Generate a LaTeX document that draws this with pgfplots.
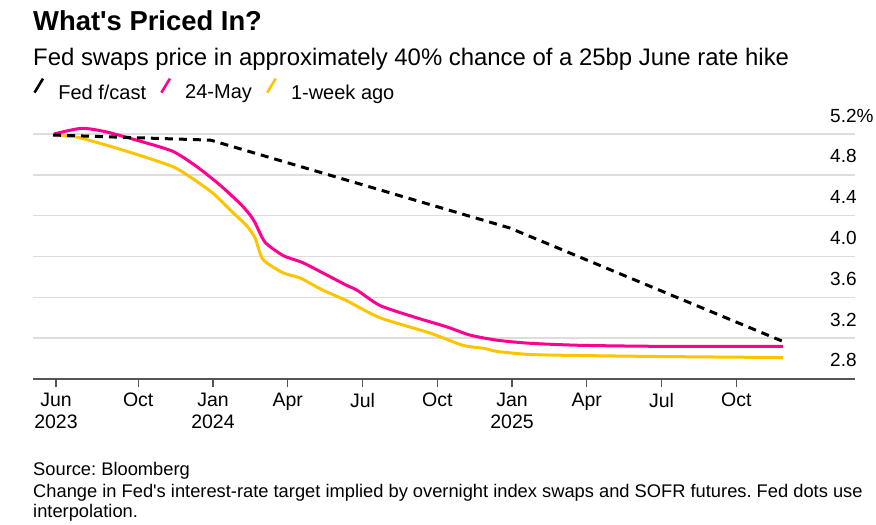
\documentclass[border=0pt]{standalone}
\usepackage{pgfplots}
\pgfplotsset{compat=1.18}
\usepackage{fontspec}
\setmainfont{Liberation Sans}
\definecolor{pinkline}{HTML}{FF0090}
\definecolor{yellowline}{HTML}{FFC400}
\definecolor{gridgray}{HTML}{DDDDDD}
\definecolor{axisgray}{HTML}{555555}
\begin{document}
\frenchspacing
\begin{tikzpicture}
\path[use as bounding box] (0bp,0bp) rectangle (876bp,525bp);
\node[anchor=base west, inner sep=0pt, font=\bfseries\fontsize{27.4bp}{30bp}\selectfont] at (33bp,494bp) {What\textquotesingle s Priced In?};
\node[anchor=base west, inner sep=0pt, font=\fontsize{23.9bp}{28bp}\selectfont] at (33bp,459bp) {Fed swaps price in approximately 40\% chance of a 25bp June rate hike};
\node[anchor=base west, inner sep=0pt, font=\fontsize{18.3bp}{20.5bp}\selectfont, align=left] at (33bp,49bp) {Source: Bloomberg};
\node[anchor=base west, inner sep=0pt, font=\fontsize{18.3bp}{20.5bp}\selectfont, align=left] at (33bp,28bp) {Change in Fed\textquotesingle s interest-rate target implied by overnight index swaps and SOFR futures. Fed dots use};
\node[anchor=base west, inner sep=0pt, font=\fontsize{18.3bp}{20.5bp}\selectfont, align=left] at (33bp,8bp) {interpolation.};
\begin{axis}[
  at={(33bp,146bp)}, anchor=south west,
  width=822bp, height=255.2bp, scale only axis,
  xmin=4.777, xmax=37.763, ymin=2.8, ymax=5.3,
  axis x line*=bottom, axis y line*=right,
  y axis line style={draw=none},
  x axis line style={draw=axisgray, line width=1.5bp},
  xtick={5.7,9,12,15,18,21,24,27,30,33},
  xticklabels={{Jun\\2023},Oct,{Jan\\2024},Apr,Jul,Oct,{Jan\\2025},Apr,Jul,Oct},
  ytick={2.8,3.2,3.6,4.0,4.4,4.8,5.2},
  yticklabels={2.8,3.2,3.6,4.0,4.4,4.8,5.2\%},
  tick align=outside, major tick length=8bp,
  xtick style={draw=axisgray, line width=1.2bp},
  ytick style={draw=none},
  ymajorgrids, grid style={draw=gridgray, line width=1.4bp},
  xticklabel style={font=\fontsize{19.5bp}{22bp}\selectfont, align=center, anchor=north, inner sep=0pt, yshift=-6bp},
  yticklabel style={font=\fontsize{19bp}{22bp}\selectfont, anchor=base west, inner sep=0pt, xshift=-33bp, yshift=12bp},
  clip=false,
  legend columns=3, legend cell align=left,
  legend style={at={(rel axis cs:0,1)}, anchor=south west, xshift=0bp, yshift=23bp, draw=none, fill=none, inner sep=0pt,
    font=\fontsize{20bp}{24bp}\selectfont, nodes={inner sep=0pt},
    /tikz/every odd column/.append style={column sep=14bp},
    /tikz/every even column/.append style={column sep=14bp}},
  legend image code/.code={\draw[#1, solid, line width=2.6bp, line cap=butt] (0bp,0bp) -- (8.5bp,14bp);},
]
\addlegendimage{black}
\addlegendentry{Fed f/cast}
\addlegendimage{pinkline}
\addlegendentry{24-May}
\addlegendimage{yellowline}
\addlegendentry{1-week ago}

% 1-week ago
\addplot[forget plot, yellowline, line width=3bp, smooth, tension=0.4] coordinates {
(5.62,5.19) (6.53,5.17) (7.73,5.09) (9.07,4.99) (10.39,4.88) (11.08,4.78) (12.0,4.62)
(12.80,4.43) (13.36,4.30) (13.69,4.18) (14.01,3.97) (14.81,3.84) (15.49,3.79) (16.41,3.67)
(17.34,3.57) (18.70,3.40) (20.71,3.25) (22.03,3.13) (22.88,3.10) (23.40,3.07) (24.72,3.04)
(26.73,3.03) (30.0,3.02) (34.87,3.01)};
% 24-May
\addplot[forget plot, pinkline, line width=3bp, smooth, tension=0.4] coordinates {
(5.62,5.20) (6.73,5.256) (7.73,5.22) (9.07,5.13) (10.39,5.03) (11.35,4.88) (12.28,4.70)
(13.08,4.52) (13.48,4.41) (13.69,4.33) (14.09,4.14) (14.81,4.01) (15.6,3.94) (16.4,3.84)
(17.34,3.72) (17.78,3.67) (18.70,3.52) (20.03,3.41) (21.39,3.31) (22.31,3.23) (23.40,3.18)
(24.72,3.15) (26.73,3.13) (29.94,3.12) (34.87,3.12)};
% Fed forecast
\addplot[forget plot, black, line width=3bp, dash pattern=on 8bp off 6bp] coordinates {
(5.58,5.19) (11.9,5.14) (23.9,4.28) (34.85,3.17)};
\end{axis}
\end{tikzpicture}
\end{document}
